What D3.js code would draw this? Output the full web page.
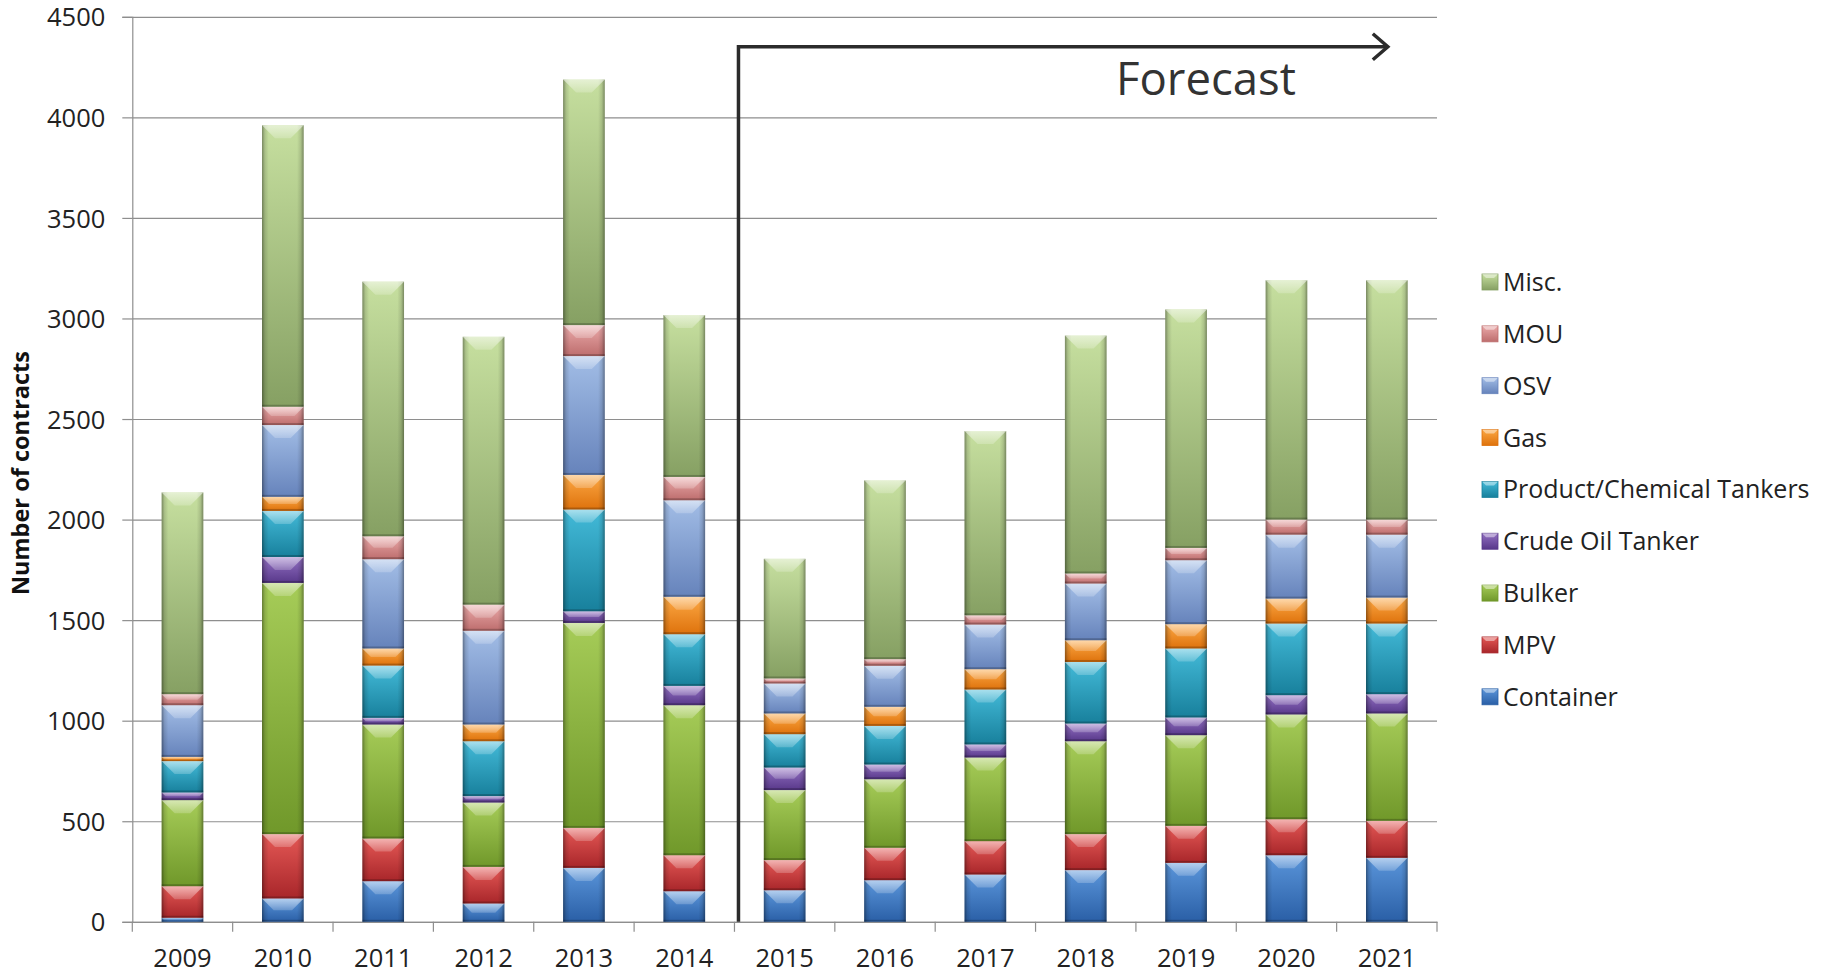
<!DOCTYPE html>
<html><head><meta charset="utf-8">
<script src="https://cdn.jsdelivr.net/npm/d3@7"></script>
<style>body{margin:0;background:#fff;} svg{display:block;}</style>
</head><body>
<svg id="chart" width="1827" height="973"></svg>
<script>
// ---------------- data ----------------
const years = ["2009","2010","2011","2012","2013","2014","2015","2016","2017","2018","2019","2020","2021"];
const seriesNames = ["Container","MPV","Bulker","Crude Oil Tanker","Product/Chemical Tankers","Gas","OSV","MOU","Misc."];
const container = [20,116,202,91,268,152,157,207,235,257,293,331,318];
const mpv       = [157,320,212,182,199,179,150,161,166,179,184,179,184];
const bulker    = [428,1249,567,320,1019,746,348,341,416,462,451,521,534];
const crudeOil  = [38,129,33,32,58,96,112,73,65,88,88,96,96];
const productChem = [156,229,260,273,506,257,166,192,273,306,343,356,351];
const gas       = [21,70,85,83,172,186,103,95,101,108,121,124,129];
const osv       = [257,357,444,466,591,480,149,204,222,282,318,318,313];
const mou       = [55,91,114,130,154,116,25,33,46,50,61,75,75];
const misc      = [1003,1400,1266,1332,1221,805,595,889,916,1183,1186,1190,1190];
const yTicks = [0,500,1000,1500,2000,2500,3000,3500,4000,4500];
const yTitle = "Number of contracts";
const forecastLabel = "Forecast";
const forecastStart = "2015";

// ---------------- styles ----------------
const seriesColors = [
  ["#5a95da","#2a5fa6"], // Container
  ["#e45855","#a8262a"], // MPV
  ["#a6cc58","#70982a"], // Bulker
  ["#9270c2","#58388a"], // Crude
  ["#43bad8","#18809c"], // Product
  ["#fca844","#de720c"], // Gas
  ["#a2bde6","#6683bb"], // OSV
  ["#eaa9a9","#bd6d6d"], // MOU
  ["#c6df9f","#86a063"]  // Misc
];
const FONT = "'Open Sans', sans-serif";

const W = 1827, H = 973;
const m = {left:132.3, right:1827-1437, top:16.8, bottom:973-921.8};
const svg = d3.select("#chart");
const defs = svg.append("defs");

const valuesBySeries = [container,mpv,bulker,crudeOil,productChem,gas,osv,mou,misc];
const rows = years.map((yr,i)=>{
  const o = {year:yr};
  seriesNames.forEach((s,k)=>{ o[s] = valuesBySeries[k][i]; });
  return o;
});
const stacked = d3.stack().keys(seriesNames)(rows);

const x = d3.scaleBand().domain(years).range([m.left, W-m.right]).paddingInner(0.585).paddingOuter(0.2925);
const y = d3.scaleLinear().domain([0,4500]).range([H-m.bottom, m.top]);

// gradients
seriesColors.forEach((c,i)=>{
  const g = defs.append("linearGradient").attr("id","g"+i).attr("x1",0).attr("y1",0).attr("x2",0).attr("y2",1);
  g.append("stop").attr("offset","0%").attr("stop-color",c[0]);
  g.append("stop").attr("offset","100%").attr("stop-color",c[1]);
});
const side = defs.append("linearGradient").attr("id","side").attr("x1",0).attr("y1",0).attr("x2",1).attr("y2",0);
[[0,0.38],[0.07,0.12],[0.16,0],[0.84,0],[0.93,0.12],[1,0.38]].forEach(([o,a])=>{
  side.append("stop").attr("offset",o).attr("stop-color","#000").attr("stop-opacity",a);
});
const bev = defs.append("linearGradient").attr("id","bev").attr("x1",0).attr("y1",0).attr("x2",0).attr("y2",1);
bev.append("stop").attr("offset",0).attr("stop-color","#fff").attr("stop-opacity",0.55);
bev.append("stop").attr("offset",1).attr("stop-color","#fff").attr("stop-opacity",0.2);

// gridlines + y axis
const innerW = W - m.right - m.left;
const yAxis = svg.append("g").attr("transform",`translate(${m.left},0)`)
  .call(d3.axisLeft(y).tickValues(yTicks).tickSize(-innerW).tickFormat(""));
yAxis.select(".domain").remove();
yAxis.selectAll("line").attr("stroke","#8e8e8e").attr("stroke-width",1.2);
const yAxis2 = svg.append("g").attr("transform",`translate(${m.left},0)`)
  .call(d3.axisLeft(y).tickValues(yTicks).tickSize(10).tickPadding(17).tickFormat(d3.format("d")));
yAxis2.select(".domain").attr("stroke","#8e8e8e").attr("stroke-width",1.2);
yAxis2.selectAll("line").attr("stroke","#8e8e8e").attr("stroke-width",1.2);
yAxis2.selectAll("text").attr("font-family",FONT).attr("font-size",25.5).attr("fill","#222").attr("dy","0.36em");

// x axis
const xAxis = svg.append("g").attr("transform",`translate(0,${H-m.bottom})`)
  .call(d3.axisBottom(x).tickSize(0).tickPadding(27));
xAxis.select(".domain").attr("stroke","#8e8e8e").attr("stroke-width",1.2);
xAxis.selectAll("text").attr("font-family",FONT).attr("font-size",25.5).attr("fill","#222");
const step = x.step();
const bounds = years.map(yr=>x(yr) - (step - x.bandwidth())/2).concat([W-m.right]);
svg.append("g").selectAll("line").data(bounds).join("line")
  .attr("x1",d=>d).attr("x2",d=>d).attr("y1",H-m.bottom).attr("y2",H-m.bottom+10)
  .attr("stroke","#8e8e8e").attr("stroke-width",1.2);

// bars
const bw = x.bandwidth();
const bars = svg.append("g");
stacked.forEach((layer,i)=>{
  const g = bars.append("g");
  layer.forEach((d,j)=>{
    const x0 = x(years[j]);
    const yt = y(d[1]), yb = y(d[0]);
    const h = yb - yt;
    if (h <= 0) return;
    g.append("rect").attr("x",x0).attr("y",yt).attr("width",bw).attr("height",h).attr("fill",`url(#g${i})`);
    g.append("rect").attr("x",x0).attr("y",yt).attr("width",bw).attr("height",h).attr("fill","url(#side)");
    const b = Math.min(13, h/2);
    g.append("path")
      .attr("d",`M${x0},${yt}L${x0+bw},${yt}L${x0+bw-b},${yt+b}L${x0+b},${yt+b}Z`)
      .attr("fill","url(#bev)");
    g.append("rect").attr("x",x0).attr("y",yb-Math.min(2,h/3)).attr("width",bw).attr("height",Math.min(2,h/3))
      .attr("fill","#000").attr("opacity",0.22);
  });
});

// y title
svg.append("text").attr("transform",`translate(29,473) rotate(-90)`)
  .attr("text-anchor","middle").attr("font-family",FONT).attr("font-weight","bold")
  .attr("font-size",23.5).attr("fill","#111").text(yTitle);

// forecast arrow
const fx = x(forecastStart) - (step - bw)/2 + 4;
const fy = 46.7;
const tipX = x("2021") + bw/2 + 1;
svg.append("path").attr("d",`M${fx},${H-m.bottom}L${fx},${fy}L${tipX},${fy}`)
  .attr("fill","none").attr("stroke","#2b2b2b").attr("stroke-width",3.5);
svg.append("path").attr("d",`M${tipX-15},${fy-13}L${tipX},${fy}L${tipX-15},${fy+13}`)
  .attr("fill","none").attr("stroke","#2b2b2b").attr("stroke-width",3.5);
svg.append("text").attr("x",1116).attr("y",95).attr("font-family",FONT)
  .attr("font-size",45.5).attr("fill","#333").text(forecastLabel);

// legend
const legend = svg.append("g");
const legendItems = seriesNames.map((s,i)=>({s,i})).reverse();
legendItems.forEach((d,k)=>{
  const cy = 282 + k*51.85;
  const gg = legend.append("g");
  gg.append("rect").attr("x",1482).attr("y",cy-8).attr("width",16).attr("height",16).attr("fill",`url(#g${d.i})`)
    .attr("stroke",seriesColors[d.i][1]).attr("stroke-width",0.8);
  gg.append("path").attr("d",`M1482,${cy-8}L1498,${cy-8}L1494,${cy-4}L1486,${cy-4}Z`).attr("fill","#fff").attr("opacity",0.45);
  gg.append("text").attr("x",1503).attr("y",cy).attr("dy","0.36em").attr("font-family",FONT)
    .attr("font-size",25).attr("fill","#222").text(d.s);
});
</script>
</body></html>
